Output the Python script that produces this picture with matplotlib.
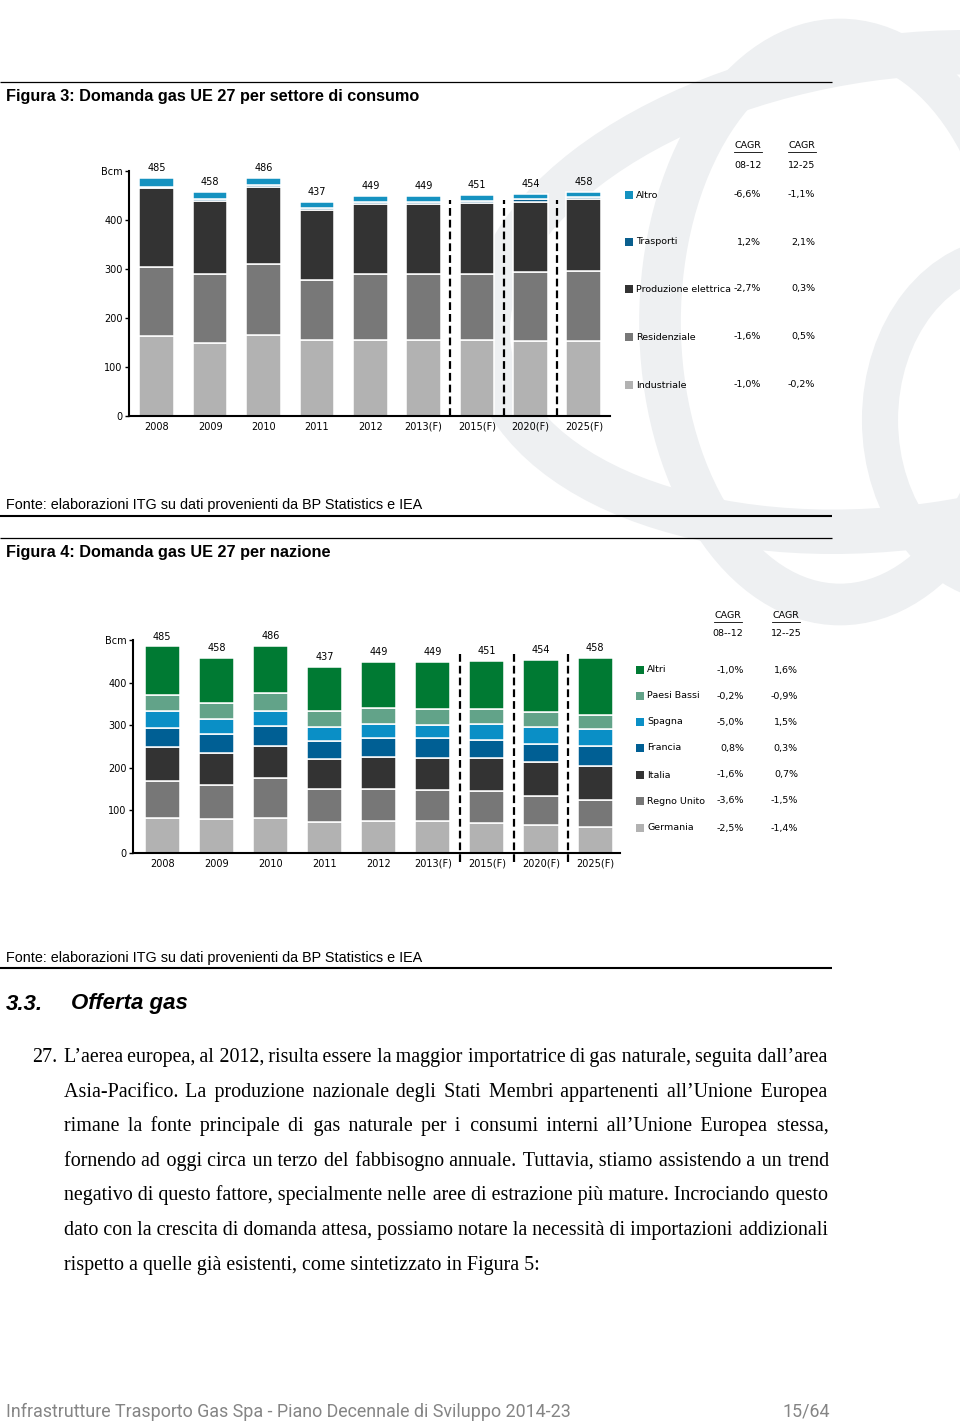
import matplotlib
matplotlib.use('Agg')
import matplotlib.pyplot as plt
from matplotlib.patches import Ellipse, Rectangle
import numpy as np

W, H = 960, 1422

years = ['2008', '2009', '2010', '2011', '2012', '2013(F)', '2015(F)', '2020(F)', '2025(F)']
totals = [485, 458, 486, 437, 449, 449, 451, 454, 458]

# Figura 3: per settore di consumo (Bcm)
industriale = [163, 150, 165, 156, 155, 155, 155, 154, 153]
residenziale = [142, 140, 146, 122, 134, 135, 135, 139, 142]
produzione = [160, 149, 157, 142, 143, 143, 144, 144, 147]
trasporti = [3, 4, 4, 4, 4, 4, 4, 5, 5]
altro = [17, 15, 14, 13, 13, 12, 13, 12, 11]

settori = ['Altro', 'Trasporti', 'Produzione elettrica', 'Residenziale', 'Industriale']
settori_cagr1 = ['-6,6%', '1,2%', '-2,7%', '-1,6%', '-1,0%']
settori_cagr2 = ['-1,1%', '2,1%', '0,3%', '0,5%', '-0,2%']

# Figura 4: per nazione (Bcm)
germania = [82, 79, 83, 73, 75, 76, 70, 65, 62]
regno_unito = [87, 80, 92, 77, 75, 71, 75, 68, 63]
italia = [81, 75, 77, 70, 75, 77, 77, 80, 80]
francia = [43, 45, 47, 43, 46, 45, 43, 44, 47]
spagna = [40, 36, 34, 33, 32, 32, 38, 39, 38]
paesi_bassi = [38, 38, 42, 37, 38, 38, 35, 35, 35]
altri = [114, 105, 111, 104, 108, 110, 113, 123, 133]

nazioni = ['Altri', 'Paesi Bassi', 'Spagna', 'Francia', 'Italia', 'Regno Unito', 'Germania']
nazioni_cagr1 = ['-1,0%', '-0,2%', '-5,0%', '0,8%', '-1,6%', '-3,6%', '-2,5%']
nazioni_cagr2 = ['1,6%', '-0,9%', '1,5%', '0,3%', '0,7%', '-1,5%', '-1,4%']

col_settori = {'Industriale': '#b2b2b2', 'Residenziale': '#787878', 'Produzione elettrica': '#333333',
               'Trasporti': '#0a5f8e', 'Altro': '#1592c0'}
col_nazioni = {'Germania': '#b2b2b2', 'Regno Unito': '#777777', 'Italia': '#333333', 'Francia': '#005f94',
               'Spagna': '#0a8fc6', 'Paesi Bassi': '#62a389', 'Altri': '#007a33'}

paragraph = [
    "L\u2019aerea europea, al 2012, risulta essere la maggior importatrice di gas naturale, seguita dall\u2019area",
    "Asia-Pacifico. La produzione nazionale degli Stati Membri appartenenti all\u2019Unione Europea",
    "rimane la fonte principale di gas naturale per i consumi interni all\u2019Unione Europea stessa,",
    "fornendo ad oggi circa un terzo del fabbisogno annuale. Tuttavia, stiamo assistendo a un trend",
    "negativo di questo fattore, specialmente nelle aree di estrazione pi\u00f9 mature. Incrociando questo",
    "dato con la crescita di domanda attesa, possiamo notare la necessit\u00e0 di importazioni addizionali",
    "rispetto a quelle gi\u00e0 esistenti, come sintetizzato in Figura 5:",
]

FS = 7     # chart text size
LFS = 6.8  # legend text size

fig = plt.figure(figsize=(W / 100, H / 100), dpi=100)
bg = fig.add_axes([0, 0, 1, 1])
bg.set_xlim(0, W)
bg.set_ylim(H, 0)
bg.axis('off')

# faint logo watermark
wm = '#eef0f2'
bg.add_patch(Ellipse((840, 322), 360, 565, angle=0, fill=False, lw=30, ec=wm, zorder=0))
bg.add_patch(Ellipse((900, 292), 830, 470, angle=-8, fill=False, lw=32, ec=wm, zorder=0))
bg.add_patch(Ellipse((1010, 420), 260, 330, angle=0, fill=False, lw=26, ec=wm, zorder=0))

# rules
def rule(y, lw):
    bg.plot([0, 832], [y, y], color='black', lw=lw, solid_capstyle='butt')

rule(82, 0.9)
rule(516, 1.5)
rule(538, 0.9)
rule(968, 1.5)

hfont = 'Liberation Sans'
bg.text(6, 96, 'Figura 3: Domanda gas UE 27 per settore di consumo', family=hfont, weight='bold',
        fontsize=11.7, va='center')
bg.text(6, 505, 'Fonte: elaborazioni ITG su dati provenienti da BP Statistics e IEA', family=hfont,
        fontsize=10.4, va='center')
bg.text(6, 552, 'Figura 4: Domanda gas UE 27 per nazione', family=hfont, weight='bold',
        fontsize=11.7, va='center')
bg.text(6, 958, 'Fonte: elaborazioni ITG su dati provenienti da BP Statistics e IEA', family=hfont,
        fontsize=10.4, va='center')
bg.text(6, 1004, '3.3.', family=hfont, weight='bold', style='italic', fontsize=16, va='center')
bg.text(71, 1004, 'Offerta gas', family=hfont, weight='bold', style='italic', fontsize=16, va='center')


def px(box):
    # box in page pixels: x0, x1, y_top, y_bottom
    x0, x1, yt, yb = box
    return [x0 / W, 1 - yb / H, (x1 - x0) / W, (yb - yt) / H]


def chart(box, xlim, layers, colors, dash_span):
    ax = fig.add_axes(px(box))
    ax.patch.set_alpha(0)
    x = np.arange(len(years))
    bottom = np.zeros(len(years))
    for vals, c in zip(layers, colors):
        ax.bar(x, vals, 0.65, bottom=bottom, color=c, edgecolor='white', linewidth=1.1)
        bottom += np.array(vals)
    for xi, t in zip(x, totals):
        ax.annotate(str(t), (xi, t), xytext=(0, 3.5), textcoords='offset points', ha='center',
                    va='bottom', fontsize=FS)
    for xd in [5.5, 6.5, 7.5]:
        ax.plot([xd, xd], dash_span, color='black', lw=1.6, dashes=(3.5, 1.8), clip_on=False)
    ax.set_xlim(*xlim)
    ax.set_ylim(0, 500)
    ax.set_yticks([0, 100, 200, 300, 400, 500])
    ax.set_yticklabels(['0', '100', '200', '300', '400', 'Bcm'])
    ax.set_xticks(x)
    ax.set_xticklabels(years)
    ax.tick_params(axis='x', length=0, pad=4, labelsize=FS)
    ax.tick_params(axis='y', length=3, width=1, pad=1.5, labelsize=FS)
    for s in ['top', 'right']:
        ax.spines[s].set_visible(False)
    for s in ['left', 'bottom']:
        ax.spines[s].set_linewidth(1.5)
    return ax


chart((129, 610, 171, 416), (-0.52, 8.49),
      [industriale, residenziale, produzione, trasporti, altro],
      [col_settori[k] for k in ['Industriale', 'Residenziale', 'Produzione elettrica', 'Trasporti', 'Altro']],
      [0, 441])

chart((133, 620, 640, 853), (-0.54, 8.46),
      [germania, regno_unito, italia, francia, spagna, paesi_bassi, altri],
      [col_nazioni[k] for k in ['Germania', 'Regno Unito', 'Italia', 'Francia', 'Spagna', 'Paesi Bassi', 'Altri']],
      [-20, 468])


def legend(names, colors, c1, c2, rows_y, mx, cx1, cx2, hx1, hx2, hy, h2y, per1, per2):
    for n, y, a, b in zip(names, rows_y, c1, c2):
        bg.add_patch(Rectangle((mx, y - 4), 8, 8, color=colors[n], lw=0))
        bg.text(mx + 11, y, n, fontsize=LFS, va='center')
        bg.text(cx1, y, a, fontsize=LFS, va='center', ha='right')
        bg.text(cx2, y, b, fontsize=LFS, va='center', ha='right')
    for hx, per in [(hx1, per1), (hx2, per2)]:
        bg.text(hx, hy, 'CAGR', fontsize=LFS, va='center', ha='center')
        bg.plot([hx - 14, hx + 14], [hy + 5.5, hy + 5.5], color='black', lw=0.6)
        bg.text(hx, h2y, per, fontsize=LFS, va='center', ha='center')


legend(settori, col_settori, settori_cagr1, settori_cagr2, [195, 242, 289, 337, 385],
       625, 761, 815, 748, 802, 146, 165, '08-12', '12-25')
legend(nazioni, col_nazioni, nazioni_cagr1, nazioni_cagr2, [670, 696, 722, 748, 775, 801, 828],
       636, 744, 798, 728, 786, 616, 634, '08--12', '12--25')

# justified paragraph: one text per line, gaps built from a space plus hair spaces
pfont = dict(family=['Liberation Serif', 'DejaVu Serif'], fontsize=14.4)
fig.canvas.draw()
renderer = fig.canvas.get_renderer()


def width(s):
    t = bg.text(0, 0, s, **pfont)
    w = t.get_window_extent(renderer).width
    t.remove()
    return w


HAIR = '\u200a'
THIN = '\u2009'
hair_w = (width('a' + HAIR * 20 + 'a') - width('aa')) / 20

bg.text(32, 1062, '27.', va='baseline', **pfont)
x_left, x_right = 64, 828
for i, line in enumerate(paragraph):
    y = 1062 + i * 34.6
    words = line.split(' ')
    s = line
    if i < len(paragraph) - 1 and hair_w > 0.2:
        n = len(words) - 1
        base = ' ' if width(line) <= x_right - x_left else THIN
        k = max(0, int(round((x_right - x_left - width(base.join(words))) / hair_w)))
        per, rem = divmod(k, n)
        s = words[0]
        for j, w in enumerate(words[1:]):
            extra = per + (1 if (j * rem) // n != ((j + 1) * rem) // n else 0)
            s += base + HAIR * extra + w
    bg.text(x_left, y, s, va='baseline', **pfont)

# footer
bg.text(6, 1412, 'Infrastrutture Trasporto Gas Spa - Piano Decennale di Sviluppo 2014-23', family='Roboto',
        fontsize=12.9, color='#858585', va='center')
bg.text(806, 1412, '15/64', family='Roboto', fontsize=12.9, color='#858585', va='center', ha='center')

fig.savefig('out.png', dpi=100)
